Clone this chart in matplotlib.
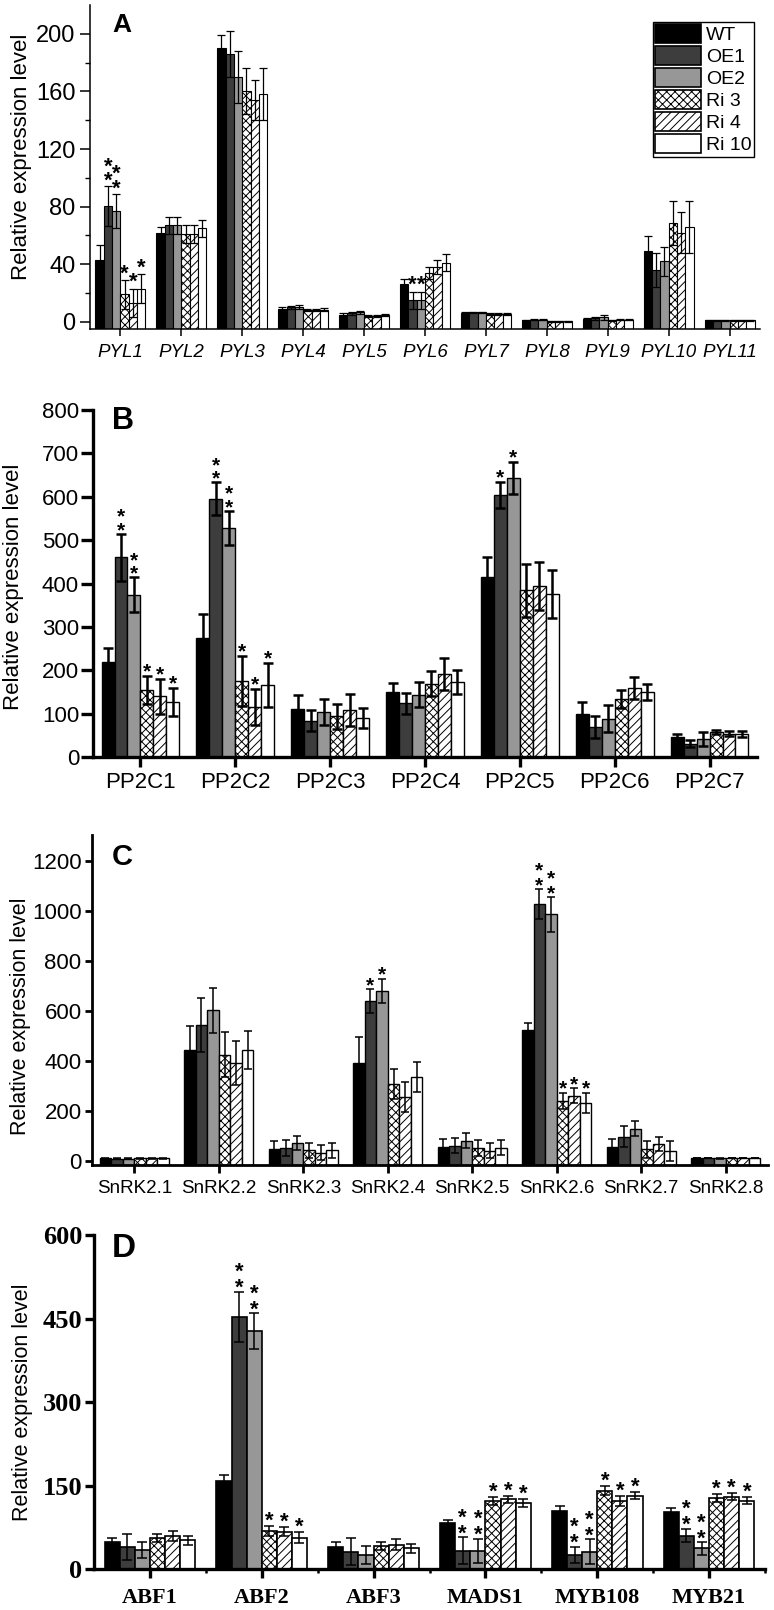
import matplotlib
matplotlib.use("Agg")
import matplotlib.pyplot as plt
from matplotlib.patches import Patch
from matplotlib.ticker import FixedLocator
import numpy as np

plt.rcParams['font.family'] = ['Liberation Sans', 'DejaVu Sans']
plt.rcParams['hatch.linewidth'] = 0.7

# ---------------- data ----------------
series = ['WT', 'OE1', 'OE2', 'Ri 3', 'Ri 4', 'Ri 10']

genes_A = ['PYL1', 'PYL2', 'PYL3', 'PYL4', 'PYL5', 'PYL6', 'PYL7', 'PYL8', 'PYL9', 'PYL10', 'PYL11']
vals_A = [
    [43, 62, 190, 9, 5, 26, 6, 1.0, 2.0, 49.5, 1],
    [80.5, 67, 186, 10, 6, 15, 6.5, 1.5, 2.5, 36, 1],
    [77, 67, 170, 10.5, 6.5, 15, 6.5, 1.5, 3.0, 42, 1],
    [19, 61, 160, 8, 4, 34, 5.5, 0.5, 1.0, 68.5, 1],
    [13, 61, 154, 8, 4, 38, 5.5, 0.5, 1.5, 62, 1],
    [23, 65, 158, 8.5, 4.5, 41, 5.5, 0.5, 1.5, 66, 1],
]
errs_A = [
    [10, 4, 9, 1, 0.8, 4, 0.5, 0.3, 0.8, 10, 0.3],
    [14, 6, 16, 1, 1, 6, 0.5, 0.3, 1.0, 12, 0.3],
    [12, 6, 18, 1.5, 1, 6, 0.5, 0.3, 1.5, 10, 0.3],
    [10, 6, 16, 0.8, 0.8, 4, 0.5, 0.3, 0.5, 15.5, 0.3],
    [10, 6, 14, 0.8, 0.8, 5, 0.5, 0.3, 0.5, 14, 0.3],
    [10, 6, 18, 0.8, 0.8, 6, 0.5, 0.3, 0.5, 18, 0.3],
]
stars_A = [
    ['', '', '', '', '', '', '', '', '', '', ''],
    ['**', '', '', '', '', '*', '', '', '', '', ''],
    ['**', '', '', '', '', '*', '', '', '', '', ''],
    ['*', '', '', '', '', '', '', '', '', '', ''],
    ['*', '', '', '', '', '', '', '', '', '', ''],
    ['*', '', '', '', '', '', '', '', '', '', ''],
]
yticks_A = [0, 40, 80, 120, 160, 200]

genes_B = ['PP2C1', 'PP2C2', 'PP2C3', 'PP2C4', 'PP2C5', 'PP2C6', 'PP2C7']
vals_B = [
    [220, 274, 111, 151, 416, 98, 45],
    [460, 595, 84, 124, 604, 69, 31],
    [374, 528, 104, 144, 644, 88, 41],
    [155, 175, 94, 169, 384, 134, 58],
    [140, 115, 109, 192, 395, 159, 54],
    [127, 166, 90, 173, 375, 150, 53],
]
errs_B = [
    [31, 55, 31, 19, 45, 29, 9],
    [55, 38, 25, 24, 31, 25, 9],
    [40, 39, 30, 29, 37, 31, 16],
    [32, 57, 29, 29, 61, 20, 5],
    [40, 41, 37, 37, 55, 25, 6],
    [33, 50, 24, 27, 55, 19, 6],
]
stars_B = [
    ['', '', '', '', '', '', ''],
    ['**', '**', '', '', '*', '', ''],
    ['**', '**', '', '', '*', '', ''],
    ['*', '*', '', '', '', '', ''],
    ['*', '*', '', '', '', '', ''],
    ['*', '*', '', '', '', '', ''],
]
yticks_B = [0, 100, 200, 300, 400, 500, 600, 700, 800]

genes_C = ['SnRK2.1', 'SnRK2.2', 'SnRK2.3', 'SnRK2.4', 'SnRK2.5', 'SnRK2.6', 'SnRK2.7', 'SnRK2.8']
vals_C = [
    [9, 443, 47, 389, 55, 521, 56, 11],
    [8, 543, 51, 639, 59, 1027, 96, 10],
    [8, 601, 71, 679, 80, 985, 128, 9],
    [9, 423, 41, 305, 49, 240, 45, 10],
    [9, 391, 32, 253, 39, 260, 67, 10],
    [9, 443, 41, 335, 52, 232, 39, 10],
]
errs_C = [
    [1, 97, 32, 104, 30, 31, 31, 1],
    [1, 108, 32, 48, 30, 60, 43, 1],
    [1, 90, 29, 48, 31, 71, 31, 1],
    [1, 90, 31, 60, 32, 32, 35, 1],
    [1, 89, 29, 60, 30, 29, 29, 1],
    [1, 77, 30, 60, 29, 40, 40, 1],
]
stars_C = [
    ['', '', '', '', '', '', '', ''],
    ['', '', '', '*', '', '**', '', ''],
    ['', '', '', '*', '', '**', '', ''],
    ['', '', '', '', '', '*', '', ''],
    ['', '', '', '', '', '*', '', ''],
    ['', '', '', '', '', '*', '', ''],
]
yticks_C = [0, 200, 400, 600, 800, 1000, 1200]

genes_D = ['ABF1', 'ABF2', 'ABF3', 'MADS1', 'MYB108', 'MYB21']
vals_D = [
    [48, 158, 39, 82, 105, 102],
    [40, 453, 31, 33, 25, 60],
    [34, 427, 25, 32, 31, 37],
    [56, 68, 41, 122, 141, 127],
    [60, 67, 44, 125, 122, 130],
    [52, 56, 37, 118, 132, 123],
]
errs_D = [
    [8, 10, 9, 6, 8, 8],
    [23, 45, 24, 24, 15, 12],
    [15, 32, 16, 22, 22, 11],
    [7, 9, 7, 7, 8, 7],
    [9, 8, 10, 6, 9, 6],
    [8, 10, 8, 7, 6, 7],
]
stars_D = [
    ['', '', '', '', '', ''],
    ['', '**', '', '**', '**', '**'],
    ['', '**', '', '**', '**', '**'],
    ['', '*', '', '*', '*', '*'],
    ['', '*', '', '*', '*', '*'],
    ['', '*', '', '*', '*', '*'],
]
yticks_D = [0, 150, 300, 450, 600]

# ---------------- styles ----------------
facecolors = ['#000000', '#3d3d3d', '#979797', 'white', 'white', 'white']
hatches = [None, None, None, 'xxxx', '////', None]

W, H = 774, 1610
fig = plt.figure(figsize=(W / 100, H / 100), dpi=100)


def add_axes_px(left, top, right, bottom):
    return fig.add_axes([left / W, 1 - bottom / H, (right - left) / W, (bottom - top) / H])


def draw_panel(ax, genes, vals, errs, stars, ylim, yticks, st):
    n = len(genes)
    x = np.arange(n)
    bw = st['group'] / 6
    ymin = ylim[0]
    for i in range(6):
        xi = x + (i - 2.5) * bw
        v = np.array(vals[i], dtype=float)
        e = np.array(errs[i], dtype=float)
        ax.bar(xi, v - ymin, bottom=ymin, width=bw, color=facecolors[i],
               edgecolor='black', linewidth=st['edge_lw'], hatch=hatches[i], zorder=2)
        ax.errorbar(xi, v, yerr=e, fmt='none', ecolor='black', elinewidth=st['err_lw'],
                    capsize=st['cap'], capthick=st['err_lw'], zorder=3)
        for j in range(n):
            s = stars[i][j]
            if not s:
                continue
            nst = len(s)
            ax.annotate('\n'.join(['*'] * nst), xy=(xi[j], v[j] + e[j]),
                        xytext=(0, st['star_off'] + (nst - 1) * st['star_gap'] / 2),
                        textcoords='offset points', ha='center', va='center',
                        linespacing=st['star_ls'], fontsize=st['star_fs'],
                        fontweight='bold', zorder=4)
    ax.set_xlim(-0.5, n - 0.5)
    ax.set_ylim(*ylim)
    ax.set_yticks(yticks)
    ax.set_xticks(x)
    ax.set_xticklabels(genes)
    for sp in ['top', 'right']:
        ax.spines[sp].set_visible(False)
    for sp in ['left', 'bottom']:
        ax.spines[sp].set_linewidth(st['spine_lw'])
    ax.tick_params(axis='y', direction='out', length=st['ytl'], width=st['spine_lw'],
                   labelsize=st['ytfs'], pad=st['ypad'])
    ax.tick_params(axis='x', direction='out', length=st['xtl'], width=st['spine_lw'],
                   labelsize=st['xtfs'], pad=st['xpad'])
    ax.set_ylabel('Relative expression level', fontsize=st['ylfs'], va='center', ha='center')
    ax.yaxis.set_label_coords(st['ylx'], st['yly'])


# Panel A
axA = add_axes_px(90, 5, 760, 329)
stA = dict(group=0.82, edge_lw=0.8, err_lw=0.9, cap=3.0, star_off=4.5, star_gap=8, star_ls=0.58,
           star_fs=16, spine_lw=1.1, ytl=7, xtl=5, ytfs=17, xtfs=13.5, ypad=3.5, xpad=6,
           ylfs=16, ylx=(22 - 90) / 670, yly=0.53)
draw_panel(axA, genes_A, vals_A, errs_A, stars_A, (-5, 220), yticks_A, stA)
for lbl in axA.get_xticklabels():
    lbl.set_fontstyle('italic')
axA.yaxis.set_minor_locator(FixedLocator([20, 60, 100, 140, 180]))
axA.tick_params(axis='y', which='minor', direction='out', length=3.5, width=1.0)

handles = [Patch(facecolor=facecolors[i], edgecolor='black', hatch=hatches[i], linewidth=1.2, label=series[i])
           for i in range(6)]
leg = fig.legend(handles=handles, loc='upper right', bbox_to_anchor=(754 / W, 1 - 22 / H),
                 bbox_transform=fig.transFigure, fontsize=14, frameon=True, fancybox=False,
                 edgecolor='black', framealpha=1, borderpad=0.12, labelspacing=0.1,
                 handlelength=2.35, handleheight=1.12, handletextpad=0.25, borderaxespad=0)
leg.get_frame().set_linewidth(1.0)

# Panel B
axB = add_axes_px(93, 410, 757, 757)
stB = dict(group=0.82, edge_lw=1.0, err_lw=1.8, cap=3.6, star_off=3.0, star_gap=8.5, star_ls=0.66,
           star_fs=15, spine_lw=2.4, ytl=8.5, xtl=7, ytfs=16, xtfs=16, ypad=1.5, xpad=3.5,
           ylfs=16, ylx=(14 - 93) / 664, yly=0.49)
draw_panel(axB, genes_B, vals_B, errs_B, stars_B, (0, 800), yticks_B, stB)

# Panel C
axC = add_axes_px(92, 835, 768, 1165)
stC = dict(group=0.82, edge_lw=1.0, err_lw=1.1, cap=3.2, star_off=2.5, star_gap=9.5, star_ls=0.74,
           star_fs=15, spine_lw=2.0, ytl=5, xtl=5.8, ytfs=16, xtfs=13.5, ypad=2.5, xpad=5,
           ylfs=15.5, ylx=(21 - 92) / 676, yly=0.45)
draw_panel(axC, genes_C, vals_C, errs_C, stars_C, (-17, 1302), yticks_C, stC)

# Panel D
axD = add_axes_px(94, 1235, 765, 1569)
stD = dict(group=0.81, edge_lw=1.2, err_lw=1.1, cap=3.6, star_off=3.5, star_gap=9.5, star_ls=0.69,
           star_fs=16, spine_lw=2.4, ytl=6.5, xtl=6.5, ytfs=19, xtfs=16, ypad=2, xpad=7,
           ylfs=15.5, ylx=(23 - 94) / 671, yly=0.5)
draw_panel(axD, genes_D, vals_D, errs_D, stars_D, (0, 600), yticks_D, stD)
for lbl in axD.get_xticklabels() + axD.get_yticklabels():
    lbl.set_fontfamily(['Liberation Serif', 'DejaVu Serif'])
    lbl.set_fontweight('bold')
axD.xaxis.set_minor_locator(FixedLocator([0.5, 1.5, 2.5, 3.5, 4.5, 5.5]))
axD.tick_params(axis='x', which='minor', direction='out', length=3, width=1.8)

# Panel letters
for letter, (px, py, fs) in {'A': (112, 13, 19), 'B': (112, 406, 22), 'C': (112, 843, 21), 'D': (112, 1233, 24)}.items():
    fig.text(px / W, 1 - py / H, letter, ha='left', va='top', fontsize=fs, fontweight='bold')

fig.savefig('out.png', dpi=100)
